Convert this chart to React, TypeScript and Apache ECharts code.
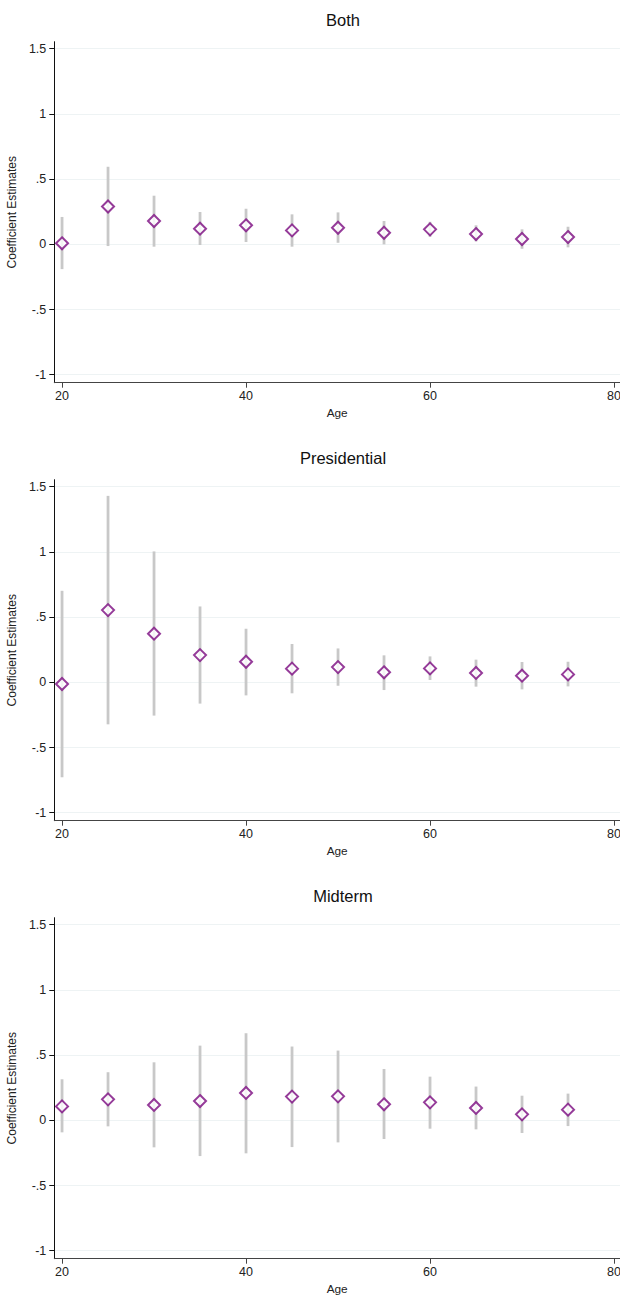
import React, { useEffect, useRef } from "react";
import * as echarts from "echarts";

const ages = [20, 25, 30, 35, 40, 45, 50, 55, 60, 65, 70, 75];
const panelTitles = ["Both", "Presidential", "Midterm"];

const bothEst = [0.008, 0.29, 0.179, 0.12, 0.146, 0.107, 0.127, 0.089, 0.115, 0.079, 0.041, 0.056];
const bothLo = [-0.19, -0.013, -0.018, -0.005, 0.018, -0.018, 0.012, 0.0, 0.058, 0.023, -0.034, -0.023];
const bothHi = [0.21, 0.595, 0.373, 0.248, 0.273, 0.23, 0.245, 0.179, 0.173, 0.146, 0.115, 0.135];

const presEst = [-0.013, 0.554, 0.373, 0.209, 0.158, 0.105, 0.117, 0.077, 0.107, 0.072, 0.051, 0.061];
const presLo = [-0.728, -0.322, -0.255, -0.163, -0.1, -0.084, -0.026, -0.059, 0.018, -0.033, -0.054, -0.031];
const presHi = [0.702, 1.43, 1.004, 0.582, 0.411, 0.294, 0.26, 0.207, 0.199, 0.174, 0.156, 0.158];

const midEst = [0.107, 0.161, 0.118, 0.148, 0.21, 0.182, 0.184, 0.123, 0.138, 0.095, 0.046, 0.082];
const midLo = [-0.092, -0.046, -0.207, -0.274, -0.253, -0.205, -0.169, -0.143, -0.064, -0.069, -0.097, -0.044];
const midHi = [0.315, 0.369, 0.445, 0.573, 0.668, 0.566, 0.535, 0.394, 0.335, 0.259, 0.189, 0.205];

const yTicks = [-1, -0.5, 0, 0.5, 1, 1.5];
const xTicks = [20, 40, 60, 80];

const panels = [
  { est: bothEst, lo: bothLo, hi: bothHi },
  { est: presEst, lo: presLo, hi: presHi },
  { est: midEst, lo: midLo, hi: midHi },
];

const FONT = "Liberation Sans, Arial, sans-serif";

function fmtStata(v: number): string {
  let s = String(Math.round(v * 100) / 100);
  s = s.replace(/^0\./, ".").replace(/^-0\./, "-.");
  return s;
}

export default function App() {
  const ref = useRef<HTMLDivElement>(null);
  useEffect(() => {
    if (!ref.current) return;
    const chart = echarts.init(ref.current, null, { renderer: "svg" });
    const PANEL_H = 438;
    const grids: any[] = [];
    const xAxes: any[] = [];
    const yAxes: any[] = [];
    const series: any[] = [];
    const titles: any[] = [];
    panels.forEach((p, i) => {
      const top = 41.7 + PANEL_H * i;
      grids.push({
        left: 54.3,
        width: 565.7,
        top,
        height: 341,
        containLabel: false,
        outerBoundsMode: "none",
      });
      titles.push({
        text: panelTitles[i],
        left: 338,
        top: 6 + PANEL_H * i,
        textAlign: "center",
        textStyle: { fontFamily: FONT, fontSize: 16.5, fontWeight: "normal", color: "#111" },
      });
      xAxes.push({
        type: "value",
        gridIndex: i,
        min: 19.16,
        max: 80.65,
        name: "Age",
        nameLocation: "middle",
        nameGap: 24,
        nameTextStyle: { fontFamily: FONT, fontSize: 11.8, color: "#222" },
        axisLine: { show: true, onZero: false, lineStyle: { color: "#444", width: 1 } },
        axisTick: { show: true, length: 5, customValues: xTicks, lineStyle: { color: "#444" } },
        axisLabel: {
          customValues: xTicks,
          margin: 7,
          fontFamily: FONT,
          fontSize: 12.5,
          color: "#222",
          formatter: (v: number) => String(v),
        },
        splitLine: { show: false },
      });
      yAxes.push({
        type: "value",
        gridIndex: i,
        min: -1.061,
        max: 1.554,
        name: "Coefficient Estimates",
        nameLocation: "middle",
        nameGap: 31,
        nameRotate: 90,
        nameTextStyle: { fontFamily: FONT, fontSize: 12, color: "#222" },
        axisLine: { show: true, onZero: false, lineStyle: { color: "#111", width: 1 } },
        axisTick: { show: true, length: 5, customValues: yTicks, lineStyle: { color: "#111" } },
        axisLabel: {
          customValues: yTicks,
          margin: 8,
          fontFamily: FONT,
          fontSize: 12.5,
          color: "#222",
          formatter: (v: number) => fmtStata(v),
        },
        splitLine: { show: true, lineStyle: { color: "#eef3f4", width: 1 } },
      });
      const data = ages.map((a, k) => [a, p.lo[k], p.hi[k]]);
      series.push({
        type: "custom",
        xAxisIndex: i,
        yAxisIndex: i,
        data,
        encode: { x: 0, y: [1, 2] },
        renderItem: (params: any, api: any) => {
          const x = api.value(0);
          const p1 = api.coord([x, api.value(1)]);
          const p2 = api.coord([x, api.value(2)]);
          return {
            type: "line",
            shape: { x1: p1[0], y1: p1[1], x2: p2[0], y2: p2[1] },
            style: { stroke: "#c8c8c8", lineWidth: 2.8 },
          };
        },
        z: 2,
      });
      series.push({
        type: "scatter",
        xAxisIndex: i,
        yAxisIndex: i,
        data: ages.map((a, k) => [a, p.est[k]]),
        symbol: "diamond",
        symbolSize: [12, 12],
        itemStyle: { color: "#ffffff", borderColor: "#7a0a7f", borderWidth: 2 },
        z: 3,
      });
    });
    chart.setOption({
      animation: false,
      backgroundColor: "#ffffff",
      title: titles,
      grid: grids,
      xAxis: xAxes,
      yAxis: yAxes,
      series,
    });
    return () => chart.dispose();
  }, []);
  return (
    <div
      ref={ref}
      style={{ position: "absolute", left: 0, top: 0, width: 620, height: 1298 }}
    />
  );
}
